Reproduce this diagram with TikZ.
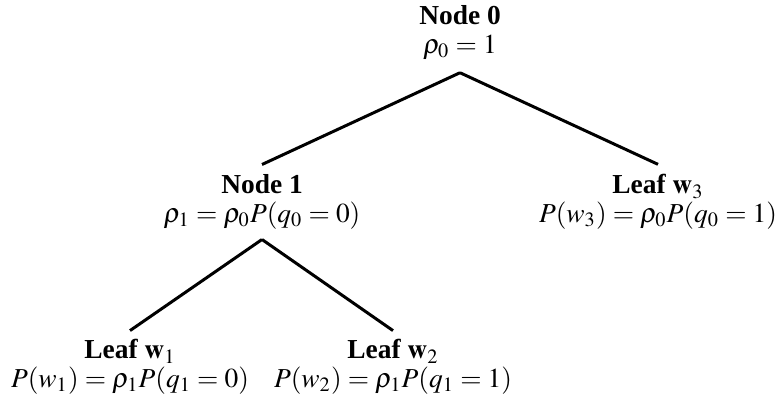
\documentclass[tikz,border=0pt]{standalone}
\usepackage{mathptmx}
\usepackage[no-math]{fontspec}
\setmainfont{Liberation Serif}
\usetikzlibrary{positioning}
\tikzset{
  every picture/.style={line width=1.2pt},
  treenode/.style={align=center, inner sep=0pt, font=\fontsize{11}{11.5}\selectfont},
  branch/.style={draw=black},
}
\begin{document}
\begin{tikzpicture}[x=0.0141cm, y=-0.0141cm]
  \useasboundingbox (0,0) rectangle (780,397);
  % root
  \node[treenode] (n0) at (460,33) {\textbf{Node 0}\\$\rho_0 = 1$};
  \coordinate[below=4.5pt of n0.south] (a0);
  % first level
  \node[treenode] (n1) at (262,202) {\textbf{Node 1}\\$\rho_1 = \rho_0 P(q_0 = 0)$};
  \node[treenode] (w3) at (658,202) {\textbf{Leaf $\mathbf{w}_3$}\\$P(w_3) = \rho_0 P(q_0 = 1)$};
  \coordinate[below=3.5pt of n1.south] (a1);
  % second level
  \node[treenode] (w1) at (130,367) {\textbf{Leaf $\mathbf{w}_1$}\\$P(w_1) = \rho_1 P(q_1 = 0)$};
  \node[treenode] (w2) at (393,367) {\textbf{Leaf $\mathbf{w}_2$}\\$P(w_2) = \rho_1 P(q_1 = 1)$};
  \draw[branch] (a0) -- ([yshift=3.5pt]n1.north);
  \draw[branch] (a0) -- ([yshift=3.5pt]w3.north);
  \draw[branch] (a1) -- ([yshift=3pt]w1.north);
  \draw[branch] (a1) -- ([yshift=3pt]w2.north);
\end{tikzpicture}
\end{document}
